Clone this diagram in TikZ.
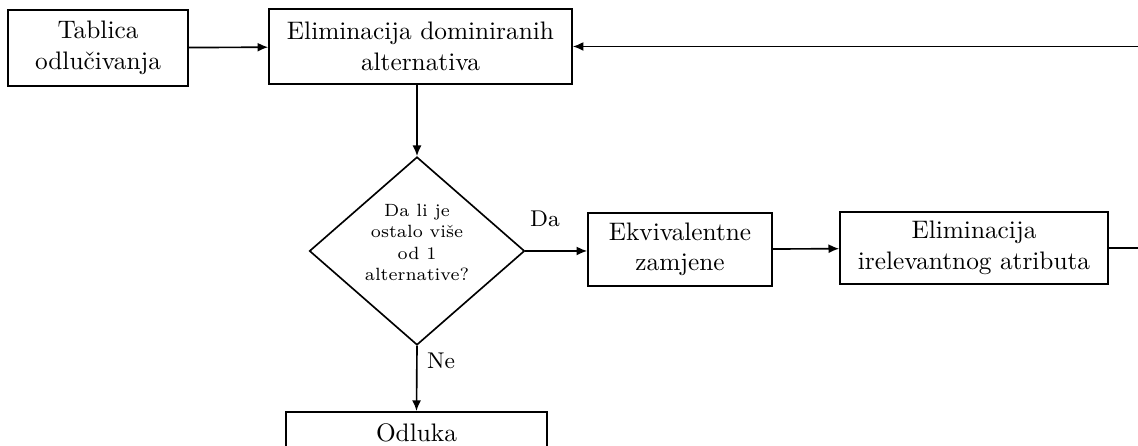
\documentclass[tikz,border=0pt]{standalone}
\usepackage{fontspec}
\usetikzlibrary{shapes.geometric,arrows.meta}
\begin{document}
\begin{tikzpicture}[x=0.395pt,y=-0.395pt,
  box/.style={draw,line width=0.65pt,align=center,inner sep=2pt,font=\normalsize},
  dec/.style={draw,diamond,line width=0.65pt,align=center,inner sep=0pt,font=\scriptsize,
    minimum width=85pt,minimum height=74.3pt},
  lbl/.style={font=\small,inner sep=0pt},
  arr/.style={line width=0.65pt,-{Latex[length=4.2pt,width=3.6pt]}}]
\useasboundingbox (0,0) rectangle (1138,446);
\clip (0,0) rectangle (1138,446);
\node[box,minimum width=71.1pt,minimum height=30pt] (tab) at (98,48) {Tablica\\odlučivanja};
\node[box,minimum width=119.7pt,minimum height=29.6pt] (elim) at (420.5,46.5) {Eliminacija dominiranih\\alternativa};
\node[dec] (dia) at (417,251) {\renewcommand\arraystretch{1.06}\raisebox{0.9pt}[0pt][0pt]{\begin{tabular}{@{}c@{}}Da li je\\ostalo više\\od 1\\alternative?\end{tabular}}};
\node[box,minimum width=72.7pt,minimum height=28.8pt] (ekv) at (680,249.5) {Ekvivalentne\\zamjene};
\node[box,minimum width=105.9pt,minimum height=28.4pt] (irr) at (974,248) {Eliminacija\\irelevantnog atributa};
\node[box,anchor=north,minimum width=103.1pt,minimum height=16.5pt] (odl) at (416.5,411) {Odluka};
\node[lbl] (da) at (545,219) {Da};
\node[lbl] (ne) at (441,361) {Ne};
\coordinate (loopR) at (1180,248);
\draw[arr] (tab) -- (elim);
\draw[arr] (elim.south -| dia.north) -- (dia.north);
\draw[arr] (dia.east) -- (ekv.west |- dia.east);
\draw[arr] (ekv) -- (irr);
\draw[arr] (dia.south) -- (odl.north);
\draw[arr] (irr.east) -- (loopR) |- (elim.east);
\end{tikzpicture}
\end{document}
